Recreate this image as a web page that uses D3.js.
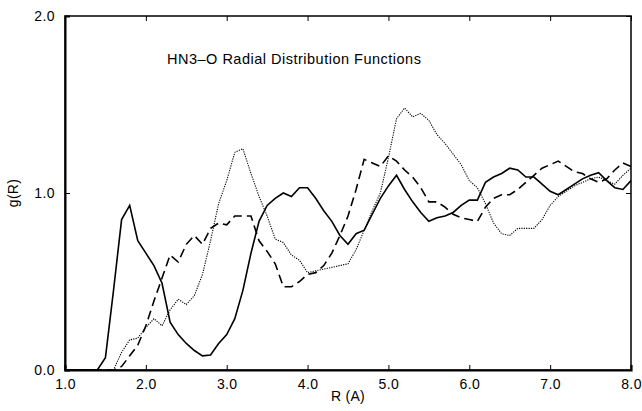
<!DOCTYPE html>
<html>
<head>
<meta charset="utf-8">
<script src="https://cdn.jsdelivr.net/npm/d3@7"></script>
<style>
  body { margin: 0; background: #fff; }
  svg { display: block; font-family: "Liberation Sans", Arial, sans-serif; }
</style>
</head>
<body>
<svg width="642" height="411"></svg>
<script>
// R grid, 1.0 .. 8.0 step 0.1 (written out)
const rValues = [
  1.0, 1.1, 1.2, 1.3, 1.4, 1.5, 1.6, 1.7, 1.8, 1.9,
  2.0, 2.1, 2.2, 2.3, 2.4, 2.5, 2.6, 2.7, 2.8, 2.9,
  3.0, 3.1, 3.2, 3.3, 3.4, 3.5, 3.6, 3.7, 3.8, 3.9,
  4.0, 4.1, 4.2, 4.3, 4.4, 4.5, 4.6, 4.7, 4.8, 4.9,
  5.0, 5.1, 5.2, 5.3, 5.4, 5.5, 5.6, 5.7, 5.8, 5.9,
  6.0, 6.1, 6.2, 6.3, 6.4, 6.5, 6.6, 6.7, 6.8, 6.9,
  7.0, 7.1, 7.2, 7.3, 7.4, 7.5, 7.6, 7.7, 7.8, 7.9,
  8.0
];

const gSolid = [
  0, 0, 0, 0, 0, 0.07, 0.45, 0.85, 0.93, 0.73,
  0.66, 0.59, 0.49, 0.27, 0.20, 0.15, 0.11, 0.08, 0.085, 0.15,
  0.20, 0.29, 0.45, 0.66, 0.84, 0.93, 0.97, 1.00, 0.98, 1.03,
  1.03, 0.97, 0.90, 0.84, 0.76, 0.71, 0.77, 0.79, 0.88, 0.97,
  1.04, 1.10, 1.02, 0.95, 0.89, 0.84, 0.86, 0.87, 0.89, 0.93,
  0.96, 0.96, 1.06, 1.09, 1.11, 1.14, 1.13, 1.09, 1.09, 1.05,
  1.01, 0.99, 1.02, 1.05, 1.08, 1.10, 1.115, 1.07, 1.03, 1.02,
  1.07
];

const gDashed = [
  0, 0, 0, 0, 0, 0, 0, 0.02, 0.08, 0.14,
  0.25, 0.39, 0.52, 0.65, 0.61, 0.71, 0.76, 0.71, 0.80, 0.83,
  0.82, 0.87, 0.87, 0.87, 0.73, 0.67, 0.60, 0.47, 0.47, 0.50,
  0.54, 0.55, 0.59, 0.66, 0.76, 0.87, 1.02, 1.19, 1.17, 1.15,
  1.21, 1.18, 1.13, 1.09, 1.03, 0.95, 0.95, 0.92, 0.88, 0.86,
  0.85, 0.84, 0.92, 0.97, 0.99, 0.99, 1.02, 1.06, 1.10, 1.14,
  1.16, 1.18, 1.15, 1.12, 1.11, 1.08, 1.06, 1.08, 1.13, 1.17,
  1.15
];

const gDotted = [
  0, 0, 0, 0, 0, 0, 0, 0.10, 0.17, 0.18,
  0.24, 0.29, 0.25, 0.34, 0.40, 0.37, 0.42, 0.54, 0.73, 0.94,
  1.07, 1.23, 1.25, 1.11, 0.98, 0.87, 0.74, 0.72, 0.65, 0.62,
  0.55, 0.56, 0.57, 0.58, 0.59, 0.60, 0.68, 0.79, 0.90, 1.00,
  1.20, 1.42, 1.48, 1.43, 1.45, 1.41, 1.33, 1.28, 1.22, 1.16,
  1.07, 1.03, 0.94, 0.83, 0.77, 0.76, 0.80, 0.80, 0.80, 0.85,
  0.93, 0.98, 1.01, 1.04, 1.06, 1.08, 1.09, 1.07, 1.05, 1.10,
  1.14
];

const xTicks = [1, 2, 3, 4, 5, 6, 7, 8];
const yTicks = [0, 1, 2];
const title = 'HN3\u2013O Radial Distribution Functions';

const margin = { top: 16, right: 11, bottom: 41, left: 65 };
const svg = d3.select('svg');
const width = 642 - margin.left - margin.right;
const height = 411 - margin.top - margin.bottom;

const g = svg.append('g')
  .attr('transform', `translate(${margin.left},${margin.top})`);

const x = d3.scaleLinear().domain([1, 8]).range([0, width]);
const y = d3.scaleLinear().domain([0, 2]).range([height, 0]);

// frame
g.append('rect')
  .attr('width', width).attr('height', height)
  .attr('fill', 'none').attr('stroke', '#000').attr('stroke-width', 1.5);

// bottom + left axes (ticks pointing inward)
const fmt = d3.format('.1f');
g.append('g')
  .attr('transform', `translate(0,${height})`)
  .call(d3.axisBottom(x).tickValues(xTicks).tickFormat(fmt).tickSize(-5).tickPadding(9))
  .call(a => a.select('.domain').attr('stroke-width', 2.2))
  .call(a => a.selectAll('text').attr('font-size', 14).attr('letter-spacing', 0.4).attr('fill', '#000'));

g.append('g')
  .call(d3.axisLeft(y).tickValues(yTicks).tickFormat(fmt).tickSize(-5).tickPadding(10))
  .call(a => a.select('.domain').attr('stroke-width', 2))
  .call(a => a.selectAll('text').attr('font-size', 14).attr('letter-spacing', 0.4).attr('fill', '#000'));

// top + right ticks, no labels
g.append('g')
  .call(d3.axisTop(x).tickValues(xTicks).tickFormat('').tickSize(-5))
  .call(a => a.select('.domain').remove());
g.append('g')
  .attr('transform', `translate(${width},0)`)
  .call(d3.axisRight(y).tickValues(yTicks).tickFormat('').tickSize(-5))
  .call(a => a.select('.domain').remove());

const line = d3.line()
  .x((d, i) => x(rValues[i]))
  .y(d => y(d));

g.append('path').datum(gDotted)
  .attr('d', line).attr('fill', 'none')
  .attr('stroke', '#000').attr('stroke-width', 1.1)
  .attr('stroke-dasharray', '1.2,1.2');

g.append('path').datum(gDashed)
  .attr('d', line).attr('fill', 'none')
  .attr('stroke', '#000').attr('stroke-width', 1.6)
  .attr('stroke-dasharray', '9,5');

g.append('path').datum(gSolid)
  .attr('d', line).attr('fill', 'none')
  .attr('stroke', '#000').attr('stroke-width', 1.6);

// title inside plot
g.append('text')
  .attr('x', 167 - margin.left).attr('y', 64 - margin.top)
  .attr('font-size', 14.5).attr('letter-spacing', 0.5).attr('fill', '#000')
  .text(title);

// axis labels
svg.append('text')
  .attr('x', margin.left + width / 2).attr('y', 401)
  .attr('text-anchor', 'middle').attr('font-size', 14).attr('letter-spacing', 0.3)
  .text('R (A)');

svg.append('text')
  .attr('transform', `translate(18,${margin.top + y(1)}) rotate(-90)`)
  .attr('text-anchor', 'middle').attr('font-size', 14).attr('letter-spacing', 0.3)
  .text('g(R)');
</script>
</body>
</html>
